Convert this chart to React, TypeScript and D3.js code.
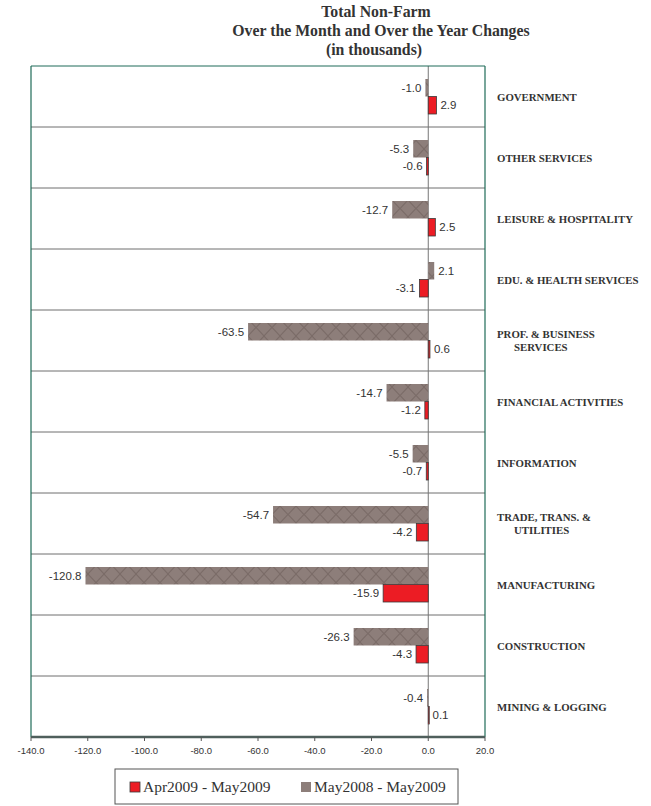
import React from "react";
import * as d3 from "d3";

const categories = [
  ["GOVERNMENT"],
  ["OTHER SERVICES"],
  ["LEISURE & HOSPITALITY"],
  ["EDU. & HEALTH SERVICES"],
  ["PROF. & BUSINESS", "SERVICES"],
  ["FINANCIAL ACTIVITIES"],
  ["INFORMATION"],
  ["TRADE, TRANS. &", "UTILITIES"],
  ["MANUFACTURING"],
  ["CONSTRUCTION"],
  ["MINING & LOGGING"],
];
const yearChange = [-1.0, -5.3, -12.7, 2.1, -63.5, -14.7, -5.5, -54.7, -120.8, -26.3, -0.4];
const monthChange = [2.9, -0.6, 2.5, -3.1, 0.6, -1.2, -0.7, -4.2, -15.9, -4.3, 0.1];
const xTicks = [-140, -120, -100, -80, -60, -40, -20, 0, 20];
const seriesNames = ["Apr2009 - May2009", "May2008 - May2009"];

const W = 651;
const H = 806;
const left = 31;
const right = 485;
const top = 66;
const bottom = 737;

const SERIF = "'Liberation Serif', 'Times New Roman', Times, serif";
const SANS = "'Liberation Sans', Arial, sans-serif";

// plain hyphen instead of the unicode minus that d3.format emits
const fmt = (v: number) => d3.format(".1f")(v).replace("\u2212", "-");

export default function App() {
  const x = d3.scaleLinear().domain([-140, 20]).range([left, right]);
  const y = d3
    .scaleBand<number>()
    .domain(d3.range(categories.length))
    .range([top, bottom]);
  const inner = d3
    .scaleBand<string>()
    .domain(["year", "month"])
    .range([13, 48]);
  const x0 = x(0);

  const label = (v: number, cy: number) => {
    const xe = x(v);
    const pos = v >= 0;
    return (
      <text
        x={pos ? Math.max(xe, x0) + 4 : Math.min(xe, x0) - 4}
        y={cy + 4}
        textAnchor={pos ? "start" : "end"}
        fontFamily={SANS}
        fontSize={11.5}
        fill="#333"
      >
        {fmt(v)}
      </text>
    );
  };

  return (
    <div style={{ position: "absolute", left: 0, top: 0 }}>
      <svg width={W} height={H}>
        <defs>
          <pattern id="hatch" width={16} height={17} patternUnits="userSpaceOnUse" y={13}>
            <rect width={16} height={17} fill="#8d7e7a" />
            <path d="M0,8.5 L8,0 L16,8.5 L8,17 Z" fill="none" stroke="#7b6c68" strokeWidth={1.1} />
          </pattern>
        </defs>
        <rect width={W} height={H} fill="#fff" />
        {/* title */}
        <g fontFamily={SERIF} fontWeight="bold" fontSize={15.8} fill="#333" textAnchor="middle">
          <text x={376} y={17}>Total Non-Farm</text>
          <text x={381} y={36}>Over the Month and Over the Year Changes</text>
          <text x={374} y={55}>(in thousands)</text>
        </g>

        {/* row separators */}
        {d3.range(1, categories.length).map((i) => (
          <line key={i} x1={left} x2={right} y1={y(i)!} y2={y(i)!} stroke="#6e6e6e" strokeWidth={1} />
        ))}
        {/* zero line */}
        <line x1={x0} x2={x0} y1={top} y2={bottom} stroke="#777" strokeWidth={1} />

        {/* bars */}
        {categories.map((_, i) => {
          const r = y(i)!;
          const yv = yearChange[i];
          const mv = monthChange[i];
          const yy = r + inner("year")!;
          const my = r + inner("month")!;
          const bh = inner.bandwidth();
          return (
            <g key={i}>
              <rect
                x={Math.min(x(yv), x0)}
                y={yy}
                width={Math.abs(x(yv) - x0)}
                height={bh}
                fill="url(#hatch)"
              />
              <rect
                x={Math.min(x(mv), x0)}
                y={my}
                width={Math.max(Math.abs(x(mv) - x0), 1)}
                height={bh}
                fill="#ec1c24"
                stroke="#3a3a3a"
                strokeWidth={0.8}
              />
              {label(yv, yy + bh / 2)}
              {label(mv, my + bh / 2)}
            </g>
          );
        })}

        {/* plot frame */}
        <line x1={left} x2={right} y1={top} y2={top} stroke="#1f6b58" strokeWidth={1} />
        <line x1={left} x2={left} y1={top} y2={bottom} stroke="#1f6b58" strokeWidth={1.2} />
        <line x1={right} x2={right} y1={top} y2={bottom} stroke="#1f6b58" strokeWidth={1.2} />
        <line x1={left} x2={right} y1={bottom} y2={bottom} stroke="#4f5f5c" strokeWidth={2.5} />

        {/* x ticks */}
        {xTicks.map((t) => (
          <g key={t}>
            <line x1={x(t)} x2={x(t)} y1={bottom} y2={bottom + 4} stroke="#555" />
            <text
              x={x(t)}
              y={bottom + 17}
              textAnchor="middle"
              fontFamily={SANS}
              fontSize={9.5}
              fill="#333"
            >
              {fmt(t)}
            </text>
          </g>
        ))}

        {/* category labels */}
        <g fontFamily={SERIF} fontWeight="bold" fontSize={10.8} fill="#333">
          {categories.map((c, i) => {
            const cy = y(i)! + y.bandwidth() / 2;
            if (c.length === 1) {
              return (
                <text key={i} x={497} y={cy + 4}>
                  {c[0]}
                </text>
              );
            }
            return (
              <g key={i}>
                <text x={497} y={cy - 3}>{c[0]}</text>
                <text x={514} y={cy + 10}>{c[1]}</text>
              </g>
            );
          })}
        </g>

        {/* legend */}
        <rect x={115} y={769} width={343} height={35} fill="#fff" stroke="#555" strokeWidth={1} />
        <rect x={130} y={782} width={10} height={10} fill="#ec1c24" stroke="#3a3a3a" strokeWidth={0.8} />
        <text x={143} y={792} fontFamily={SERIF} fontSize={15.5} fill="#333">
          {seriesNames[0]}
        </text>
        <rect x={301} y={782} width={10} height={10} fill="#8d7e7a" />
        <text x={314} y={792} fontFamily={SERIF} fontSize={15.5} fill="#333">
          {seriesNames[1]}
        </text>
      </svg>
    </div>
  );
}
